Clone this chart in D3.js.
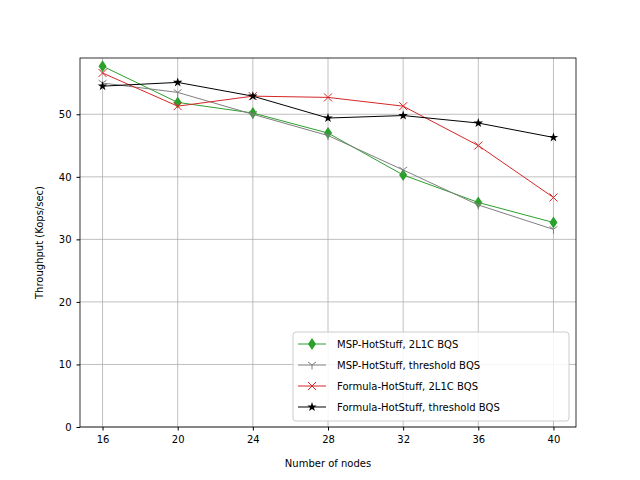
<!DOCTYPE html>
<html><head><meta charset="utf-8">
<script src="https://cdn.jsdelivr.net/npm/d3@7"></script>
<style>body{margin:0;background:#fff}text{font-family:"DejaVu Sans",sans-serif}</style>
</head><body><svg width="640" height="480"></svg>
<script>
// data
const nodes = [16, 20, 24, 28, 32, 36, 40]
const msp2l1c = [57.7, 51.9, 50.2, 47.0, 40.3, 35.9, 32.7]
const mspThreshold = [55.0, 53.5, 50.0, 46.6, 41.1, 35.5, 31.6]
const formula2l1c = [56.6, 51.3, 52.9, 52.7, 51.3, 45.0, 36.7]
const formulaThreshold = [54.5, 55.1, 52.9, 49.4, 49.8, 48.6, 46.3]
const yTicks = [0, 10, 20, 30, 40, 50]
const seriesNames = ["MSP-HotStuff, 2L1C BQS", "MSP-HotStuff, threshold BQS",
  "Formula-HotStuff, 2L1C BQS", "Formula-HotStuff, threshold BQS"]

const series = [
  {name: seriesNames[0], vals: msp2l1c, color: "#2ca02c", marker: "diamond"},
  {name: seriesNames[1], vals: mspThreshold, color: "#7f7f7f", marker: "tri"},
  {name: seriesNames[2], vals: formula2l1c, color: "#d62728", marker: "x"},
  {name: seriesNames[3], vals: formulaThreshold, color: "#000000", marker: "star"}
]

const pLeft = 80, pRight = 576, pTop = 58, pBottom = 427
const svg = d3.select("svg")

const x = d3.scaleLinear().domain([14.8, 41.2]).range([pLeft, pRight])
const y = d3.scaleLinear().domain([0, 59]).range([pBottom, pTop])

// grid
svg.append("g").selectAll("line").data(nodes).join("line")
  .attr("x1", d => x(d)).attr("x2", d => x(d)).attr("y1", pTop).attr("y2", pBottom)
  .attr("stroke", "#b0b0b0").attr("stroke-width", 0.8)
svg.append("g").selectAll("line").data(yTicks).join("line")
  .attr("y1", d => y(d)).attr("y2", d => y(d)).attr("x1", pLeft).attr("x2", pRight)
  .attr("stroke", "#b0b0b0").attr("stroke-width", 0.8)

const xa = svg.append("g").attr("transform", "translate(0," + pBottom + ")")
  .call(d3.axisBottom(x).tickValues(nodes).tickSizeOuter(0).tickSize(3.5).tickPadding(5))
const ya = svg.append("g").attr("transform", "translate(" + pLeft + ",0)")
  .call(d3.axisLeft(y).tickValues(yTicks).tickSizeOuter(0).tickSize(3.5).tickPadding(5))
xa.select(".domain").remove(); ya.select(".domain").remove()
svg.selectAll(".tick text").attr("font-size", 10).attr("fill", "#000")
svg.append("rect").attr("x", pLeft).attr("y", pTop).attr("width", pRight - pLeft).attr("height", pBottom - pTop)
  .attr("fill", "none").attr("stroke", "#000").attr("stroke-width", 0.8)

svg.append("text").attr("x", (pLeft + pRight) / 2).attr("y", 467).attr("text-anchor", "middle")
  .attr("font-size", 10).text("Number of nodes")
svg.append("text").attr("transform", "translate(43," + (pTop + pBottom) / 2 + ") rotate(-90)")
  .attr("text-anchor", "middle").attr("font-size", 10).text("Throughput (Kops/sec)")

function marker(g, type, color) {
  if (type === "diamond") {
    g.append("path").attr("d", "M0,-6L4,0L0,6L-4,0Z").attr("fill", color)
  } else if (type === "tri") {
    g.append("path").attr("d", "M0,0L0,4.5M0,0L-4,-3M0,0L4,-3").attr("stroke", color).attr("fill", "none")
  } else if (type === "x") {
    g.append("path").attr("d", "M-4,-4L4,4M-4,4L4,-4").attr("stroke", color).attr("fill", "none")
  } else {
    g.append("path").attr("d", d3.symbol(d3.symbolStar, 28)()).attr("fill", color)
  }
}

const line = d3.line().x((d, i) => x(nodes[i])).y(d => y(d))
series.forEach(s => {
  svg.append("path").datum(s.vals).attr("d", line).attr("fill", "none")
    .attr("stroke", s.color).attr("stroke-width", 1)
  s.vals.forEach((v, i) => marker(svg.append("g")
    .attr("transform", "translate(" + x(nodes[i]) + "," + y(v) + ")"), s.marker, s.color))
})

// legend
const lg = svg.append("g").attr("transform", "translate(293,332)")
lg.append("rect").attr("width", 276).attr("height", 89).attr("rx", 3)
  .attr("fill", "#fff").attr("fill-opacity", 0.85).attr("stroke", "#ccc")
series.forEach((s, i) => {
  const row = lg.append("g").attr("transform", "translate(0," + (12 + i * 21) + ")")
  row.append("line").attr("x1", 5).attr("x2", 33).attr("stroke", s.color)
  marker(row.append("g").attr("transform", "translate(19,0)"), s.marker, s.color)
  row.append("text").attr("x", 44).attr("y", 4).attr("font-size", 10).text(s.name)
})
</script></body></html>
